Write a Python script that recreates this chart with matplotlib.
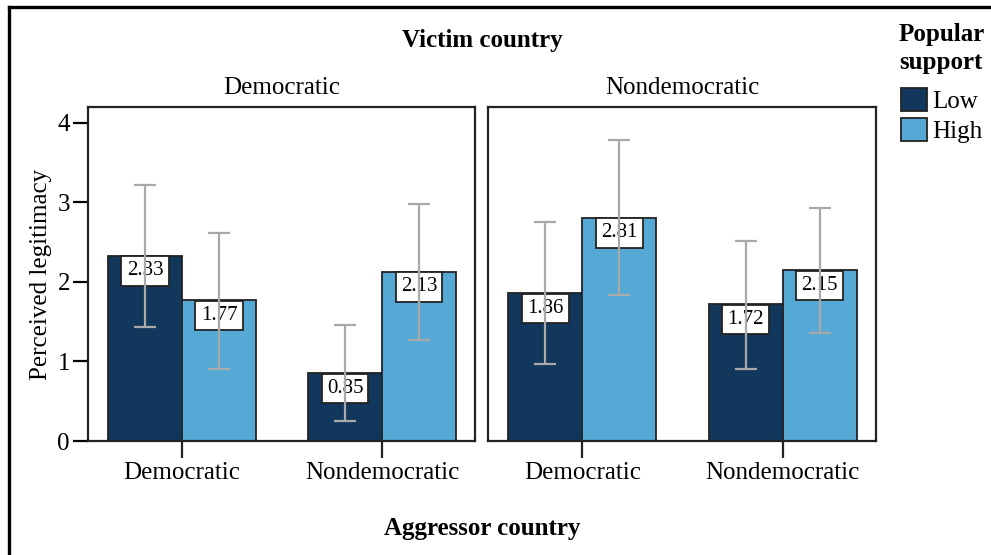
import numpy as np
import matplotlib
matplotlib.use('Agg')
import matplotlib.pyplot as plt
from matplotlib.patches import Patch
from matplotlib.lines import Line2D

plt.rcParams['font.family'] = ['Liberation Serif', 'DejaVu Serif']

# data: one list per victim-country panel, Low then High popular support
victims = ['Democratic', 'Nondemocratic']
aggressors = ['Democratic', 'Nondemocratic']
support = ['Low', 'High']

means_dem_low = [2.33, 0.85]
means_dem_high = [1.77, 2.13]
means_non_low = [1.86, 1.72]
means_non_high = [2.81, 2.15]

lo_dem_low = [1.43, 0.25]
hi_dem_low = [3.22, 1.46]
lo_dem_high = [0.90, 1.27]
hi_dem_high = [2.62, 2.98]
lo_non_low = [0.97, 0.91]
hi_non_low = [2.75, 2.52]
lo_non_high = [1.83, 1.36]
hi_non_high = [3.78, 2.93]

panels = [
    (means_dem_low, lo_dem_low, hi_dem_low, means_dem_high, lo_dem_high, hi_dem_high),
    (means_non_low, lo_non_low, hi_non_low, means_non_high, lo_non_high, hi_non_high),
]

DARK = '#12375c'
LIGHT = '#56a8d5'
EDGE = '#222222'
ERR = '#a9a9a9'
colors = [DARK, LIGHT]

W, H = 991, 555
fig = plt.figure(figsize=(W / 100, H / 100), dpi=100)

# outer frame (top and left edges)
fig.add_artist(Line2D([9 / W, 1.0], [1 - 7 / H, 1 - 7 / H], color='black', lw=2.4,
                      transform=fig.transFigure))
fig.add_artist(Line2D([9 / W, 9 / W], [0.0, 1 - 7 / H], color='black', lw=2.4,
                      transform=fig.transFigure))

ax_left = [88, 488]
ax_w = [387, 388]
bot, top = 441, 107
x = np.arange(len(aggressors))
bw = 0.37

axes = []
for i, (victim, data) in enumerate(zip(victims, panels)):
    ax = fig.add_axes([ax_left[i] / W, 1 - bot / H, ax_w[i] / W, (bot - top) / H])
    axes.append(ax)
    m_low, l_low, h_low, m_high, l_high, h_high = data
    series = [(m_low, l_low, h_low), (m_high, l_high, h_high)]
    for j, (m, lo, hi) in enumerate(series):
        m = np.array(m)
        xs = x + (j - 0.5) * bw
        ax.bar(xs, m, width=bw, color=colors[j], edgecolor=EDGE, linewidth=1.3, zorder=2)
        yerr = [m - np.array(lo), np.array(hi) - m]
        ax.errorbar(xs, m, yerr=yerr, fmt='none', ecolor=ERR, elinewidth=1.6,
                    capsize=8, capthick=1.6, zorder=5)
        for xi, v in zip(xs, m):
            ax.annotate(f'{v:.2f}', (xi, v), xytext=(0, -11), textcoords='offset points',
                        ha='center', va='center', fontsize=15, zorder=4,
                        bbox=dict(boxstyle='square,pad=0.25', fc='white', ec=EDGE, lw=1.3))
    ax.set_xlim(-0.47, 1.465)
    ax.set_ylim(0, 4.2)
    ax.set_xticks(x)
    ax.set_xticklabels(aggressors, fontsize=18)
    ax.tick_params(axis='x', length=12, width=1.6, color=EDGE, pad=3)
    for s in ax.spines.values():
        s.set_linewidth(1.6)
        s.set_color(EDGE)
    ax.set_title(victim, fontsize=18, pad=9)
    if i == 0:
        ax.set_yticks([0, 1, 2, 3, 4])
        ax.tick_params(axis='y', length=11, width=1.6, labelsize=18, pad=2)
        ax.set_ylabel('Perceived legitimacy', fontsize=18, labelpad=4)
    else:
        ax.set_yticks([])

fig.text(482 / W, 1 - 40 / H, 'Victim country', ha='center', va='center',
         fontsize=18, fontweight='bold')
fig.text(482 / W, 1 - 528 / H, 'Aggressor country', ha='center', va='center',
         fontsize=18, fontweight='bold')

# legend title drawn separately so its spacing to the entries can be set
fig.text(899 / W, 1 - 23 / H, 'Popular\nsupport', ha='left', va='top',
         fontsize=18, fontweight='bold', linespacing=1.25)
handles = [Patch(facecolor=c, edgecolor=EDGE, linewidth=1.3) for c in colors]
leg = fig.legend(handles, support, loc='upper left', bbox_to_anchor=(901 / W, 1 - 88 / H),
                 frameon=False, fontsize=18, borderpad=0, borderaxespad=0,
                 handlelength=1.05, handleheight=1.05, handletextpad=0.2,
                 labelspacing=0.2)

fig.savefig('out.png', dpi=100)
